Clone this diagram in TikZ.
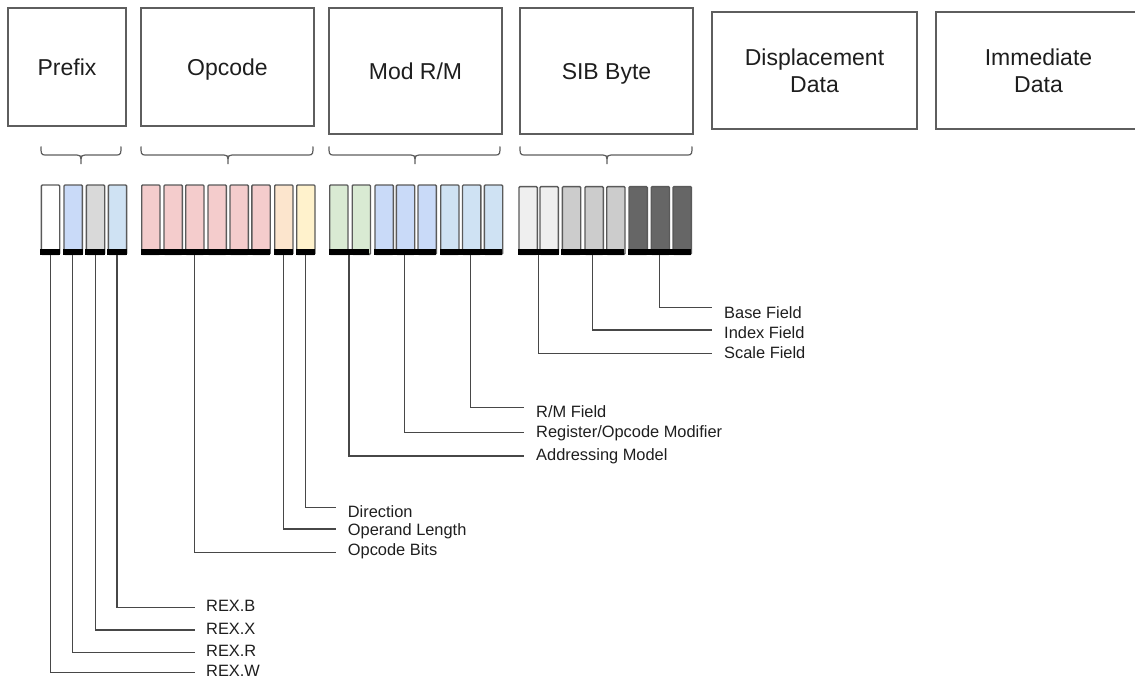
\documentclass[tikz,border=0pt]{standalone}
\usepackage{fontspec}
\setmainfont{Liberation Sans}

% field colours
\definecolor{boxgray}{HTML}{5E5E5E}
\definecolor{bitgray}{HTML}{5A5A5A}
\definecolor{linegray}{HTML}{474747}
\definecolor{bracegray}{HTML}{5E5E5E}
\definecolor{textgray}{HTML}{1E1E1E}
\definecolor{bitwhite}{HTML}{FFFFFF}
\definecolor{bitblue}{HTML}{C9DAF8}
\definecolor{bitlblue}{HTML}{CFE2F3}
\definecolor{bitgrey}{HTML}{D9D9D9}
\definecolor{bitred}{HTML}{F4CCCC}
\definecolor{bitorange}{HTML}{FCE5CD}
\definecolor{bityellow}{HTML}{FFF2CC}
\definecolor{bitgreen}{HTML}{D9EAD3}
\definecolor{bitpale}{HTML}{EFEFEF}
\definecolor{bitmid}{HTML}{CCCCCC}
\definecolor{bitdark}{HTML}{666666}

% curly bracket under a byte: left end, tip, right end
\newcommand\bytebrace[3]{%
  \draw[bracket] (#1,146.5) .. controls (#1,153) and (#1,155) .. (#1+4,155)
     -- (#2-4,155) .. controls (#2-1,155) and (#2,156) .. (#2,159) -- (#2,164);
  \draw[bracket] (#3,146.5) .. controls (#3,153) and (#3,155) .. (#3-4,155)
     -- (#2+4,155) .. controls (#2+1,155) and (#2,156) .. (#2,159);
}

\begin{document}
\begin{tikzpicture}[x=1pt,y=-1pt,
  topbox/.style={draw=boxgray, line width=1.3pt, inner sep=0pt, align=center,
                 text=textgray, font=\fontsize{23}{27}\selectfont},
  oneline/.style={text height=16.5pt, text depth=0pt},
  bitbox/.style={draw=bitgray, line width=1.4pt, rounded corners=1pt, inner sep=0pt,
                 anchor=south west, minimum width=18.3pt},
  barbox/.style={fill=black, draw=none, inner sep=0pt, anchor=south west,
                 minimum height=6pt},
  lead/.style={draw=linegray, line width=1.1pt},
  tag/.style={anchor=west, inner sep=0pt, text=textgray,
              font=\fontsize{16.4}{19}\selectfont},
  bracket/.style={draw=bracegray, line width=1.2pt}
]
\useasboundingbox (0,0) rectangle (1135,682);

% instruction format fields
\node[topbox, oneline, minimum width=118, minimum height=118] (prefix) at (67,67) {Prefix};
\node[topbox, oneline, minimum width=173, minimum height=118] (opcode) at (227.5,67) {Opcode};
\node[topbox, oneline, minimum width=173, minimum height=126] (modrm)  at (415.5,71) {Mod R/M};
\node[topbox, oneline, minimum width=173, minimum height=126] (sib)    at (606.5,71) {SIB Byte};
\node[topbox, minimum width=205, minimum height=117] (disp)   at (814.5,70.5) {Displacement\\Data};
\node[topbox, minimum width=205, minimum height=117] (imm)    at (1038.5,70.5) {Immediate\\Data};

% brackets under the bytes that are broken into bits
\bytebrace{41}{81}{121}
\bytebrace{141}{228}{313}
\bytebrace{329}{415}{500}
\bytebrace{520}{607}{692}

% bits
\foreach \n/\x/\c in {p1/40.7/bitwhite, p2/63.3/bitblue, p3/85.7/bitgrey, p4/107.6/bitlblue,
    o1/141/bitred, o2/163.3/bitred, o3/185/bitred, o4/207.3/bitred, o5/229.3/bitred,
    o6/251.2/bitred, o7/274/bitorange, o8/296/bityellow,
    m1/329/bitgreen, m2/351.5/bitgreen, m3/374.3/bitblue, m4/395.7/bitblue, m5/417.3/bitblue,
    m6/440/bitlblue, m7/461.8/bitlblue, m8/483.7/bitlblue}
  \node[bitbox, fill=\c, minimum height=69.3] (\n) at (\x,255) {};
\foreach \n/\x/\c in {s1/518.3/bitpale, s2/539.3/bitpale, s3/561.7/bitmid, s4/584.3/bitmid,
    s5/606/bitmid, s6/628.3/bitdark, s7/650.5/bitdark, s8/672.4/bitdark}
  \node[bitbox, fill=\c, minimum height=67.7] (\n) at (\x,255) {};

% black bars grouping the bits into fields
\node[barbox, minimum width=19.9] (rw)  at (40,255) {};
\node[barbox, minimum width=19.7] (rr)  at (62.6,255) {};
\node[barbox, minimum width=19.7] (rx)  at (85,255) {};
\node[barbox, minimum width=19.7] (rb)  at (106.9,255) {};
\node[barbox, minimum width=129.9] (opb) at (140.3,255) {};
\node[barbox, minimum width=19.7] (opl) at (273.3,255) {};
\node[barbox, minimum width=19.7] (opd) at (295.3,255) {};
\node[barbox, minimum width=40.9] (mod) at (328.3,255) {};
\node[barbox, minimum width=61.7] (reg) at (373.6,255) {};
\node[barbox, minimum width=62.4] (rm)  at (439.3,255) {};
\node[barbox, minimum width=41.3] (scl) at (517.6,255) {};
\node[barbox, minimum width=62.9] (idx) at (561,255) {};
\node[barbox, minimum width=63.1] (bas) at (627.6,255) {};

% label ends
\coordinate (eBase)  at (712.3,307.3);
\coordinate (eIndex) at (712.3,330);
\coordinate (eScale) at (712.3,353.3);
\coordinate (eRM)    at (524,407.3);
\coordinate (eReg)   at (524,432.3);
\coordinate (eAddr)  at (524,456);
\coordinate (eDir)   at (336,507.3);
\coordinate (eLen)   at (336,529);
\coordinate (eOp)    at (336,552.7);
\coordinate (eRexB)  at (195,607.7);
\coordinate (eRexX)  at (195,630);
\coordinate (eRexR)  at (195,652.3);
\coordinate (eRexW)  at (195,672.3);

% labels
\node[tag] (tBase)  at (724,312.5) {Base Field};
\node[tag] (tIndex) at (724,332.5) {Index Field};
\node[tag] (tScale) at (724,352.5) {Scale Field};
\node[tag] (tRM)    at (536,411.7) {R/M Field};
\node[tag] (tReg)   at (536,433.3) {Register/Opcode Modifier};
\node[tag] (tAddr)  at (536,456)   {Addressing Model};
\node[tag] (tDir)   at (347.7,512) {Direction};
\node[tag] (tLen)   at (347.7,531.7) {Operand Length};
\node[tag] (tOp)    at (347.7,551.7) {Opcode Bits};
\node[tag] (tRexB)  at (206,606)   {REX.B};
\node[tag] (tRexX)  at (206,629)   {REX.X};
\node[tag] (tRexR)  at (206,650.7) {REX.R};
\node[tag] (tRexW)  at (206,671)   {REX.W};

% leader lines from the fields to their labels
\draw[lead] (bas.south) |- (eBase);
\draw[lead] (idx.south) |- (eIndex);
\draw[lead] (scl.south) |- (eScale);
\draw[lead] (rm.south)  |- (eRM);
\draw[lead] (reg.south) |- (eReg);
\draw[lead] (mod.south) |- (eAddr);
\draw[lead] (opd.south) |- (eDir);
\draw[lead] (opl.south) |- (eLen);
\draw[lead] (opb.south -| o3.south) |- (eOp);
\draw[lead] (rb.south)  |- (eRexB);
\draw[lead] (rx.south)  |- (eRexX);
\draw[lead] (rr.south)  |- (eRexR);
\draw[lead] (rw.south)  |- (eRexW);
\end{tikzpicture}
\end{document}
